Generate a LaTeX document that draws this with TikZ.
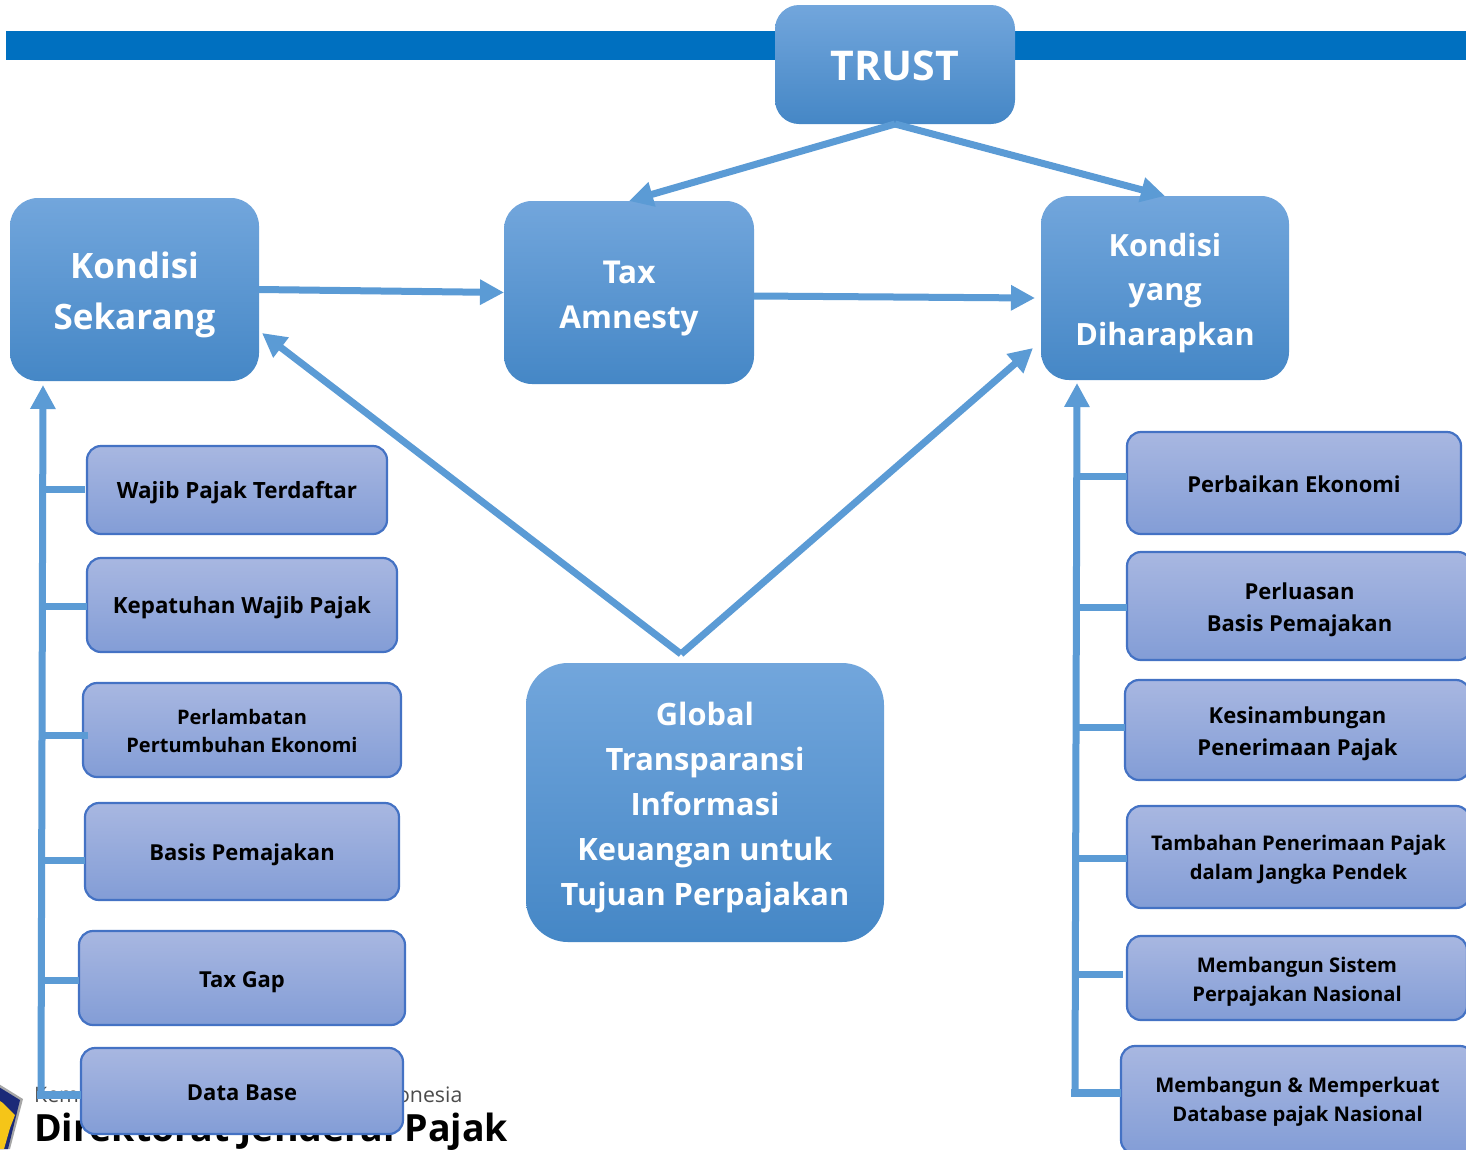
\documentclass[tikz,border=0pt]{standalone}
\usepackage{fontspec}
\setmainfont{Open Sans}
\usetikzlibrary{arrows.meta}
\definecolor{barblue}{HTML}{0070C0}
\definecolor{linkblue}{HTML}{5B9BD5}
\definecolor{edgeblue}{HTML}{4472C4}
\definecolor{HeadTop}{HTML}{72A6DC}
\definecolor{HeadMid}{HTML}{5598DB}
\definecolor{HeadBot}{HTML}{4587C6}
\definecolor{SubTop}{HTML}{A8B7E1}
\definecolor{SubBot}{HTML}{839DD6}
\definecolor{logonavy}{HTML}{1B2A78}
\definecolor{logogold}{HTML}{F5C518}
\newcommand{\fs}[2]{\fontsize{#1}{#2}\selectfont}
\newcommand{\dn}[2]{\raisebox{-#1pt}[\height][\depth]{\begin{tabular}{@{}c@{}}#2\end{tabular}}}
\tikzset{
 bighead/.style={text=white,align=center,inner sep=0pt,outer sep=0pt,
   top color=HeadTop,middle color=HeadMid,bottom color=HeadBot,draw=none,
   rounded corners=28pt,anchor=north west},
 subbox/.style={text=black,align=center,inner sep=0pt,outer sep=0pt,
   top color=SubTop,bottom color=SubBot,draw=edgeblue,line width=2.2pt,
   rounded corners=14pt,anchor=north west},
 link/.style={draw=linkblue,line width=7pt},
 tiplink/.style={link,-{Triangle[length=24pt,width=24pt]}},
 capfoot/.style={inner sep=0pt,anchor=base west}
}
\begin{document}
\begin{tikzpicture}[x=1pt,y=-1pt]
\path[use as bounding box,clip] (0,0) rectangle (1466,1149);
\fill[white] (0,0) rectangle (1466,1149);
\fill[barblue] (6,31) rectangle (1466,60);
% footer
\node[capfoot,text=black!70,font=\fs{21.3}{24}] (kem) at (34,1102) {Kementerian Keuangan Republik Indonesia};
\node[capfoot,font=\bfseries\fs{37.5}{40}] (dir) at (34,1141) {Direktorat Jenderal Pajak};
\fill[black!35] (-6,1081) -- (23,1099) -- (10,1149) -- (-6,1149) -- cycle;
\fill[logonavy] (-6,1084) -- (20,1100) -- (8,1149) -- (-6,1149) -- cycle;
\fill[logogold] (-6,1097) -- (3,1103) -- (15,1115) -- (10,1128) -- (4,1149) -- (-6,1149) -- cycle;
% coordinates
\coordinate (apex) at (681,654);
\coordinate (lefttop) at (43,385);
\coordinate (leftcorner) at (41,1095);
\coordinate (leftjoin) at (81,1095);
\coordinate (righttop) at (1077,383);
\coordinate (rightcorner) at (1075,1093);
\coordinate (rightjoin) at (1121,1093);
\coordinate (kstip) at (262,333);
\coordinate (kytip) at (1033,348);
\coordinate (taxend) at (1035,298);
\coordinate (taxstart) at (754,296);
\coordinate (a1) at (43,489);\coordinate (a2) at (43,606);\coordinate (a3) at (43,735);\coordinate (a4) at (43,860);\coordinate (a5) at (43,980);
\coordinate (b1) at (1077,476);\coordinate (b2) at (1077,607);\coordinate (b3) at (1077,727);\coordinate (b4) at (1077,858);\coordinate (b5) at (1077,974);
% main boxes
\node[bighead,minimum width=240pt,minimum height=119pt,rounded corners=24pt,font=\bfseries\fs{41}{48}] (trust) at (775,5) {\dn{6}{TRUST}};
\node[bighead,minimum width=249pt,minimum height=183pt,font=\bfseries\fs{35}{51}] (ks) at (10,198) {\dn{4}{Kondisi\\Sekarang}};
\node[bighead,minimum width=250pt,minimum height=183pt,font=\bfseries\fs{31.5}{45}] (tax) at (504,201) {\dn{4}{Tax\\Amnesty}};
\node[bighead,minimum width=248pt,minimum height=184pt,font=\bfseries\fs{30.6}{44.5}] (ky) at (1041,196) {\dn{4}{Kondisi\\yang\\Diharapkan}};
\node[bighead,minimum width=358pt,minimum height=279pt,rounded corners=42pt,font=\bfseries\fs{30.8}{44.8}] (gl) at (526,663) {\dn{4}{Global\\Transparansi\\Informasi\\Keuangan untuk\\Tujuan Perpajakan}};
% left boxes
\node[subbox,minimum width=300pt,minimum height=88pt,font=\bfseries\fs{22.4}{29}] (l1) at (87,446) {\dn{3}{Wajib Pajak Terdaftar}};
\node[subbox,minimum width=310pt,minimum height=94pt,font=\bfseries\fs{22.3}{29}] (l2) at (87,558) {\dn{3}{Kepatuhan Wajib Pajak}};
\node[subbox,minimum width=318pt,minimum height=94pt,font=\bfseries\fs{20}{28}] (l3) at (83,683) {\dn{3}{Perlambatan\\Pertumbuhan Ekonomi}};
\node[subbox,minimum width=314pt,minimum height=97pt,font=\bfseries\fs{22}{29}] (l4) at (85,803) {\dn{3}{Basis Pemajakan}};
\node[subbox,minimum width=326pt,minimum height=94pt,font=\bfseries\fs{22}{29}] (l5) at (79,931) {\dn{4}{Tax Gap}};
\node[subbox,minimum width=322pt,minimum height=86pt,font=\bfseries\fs{22}{29}] (l6) at (81,1048) {\dn{4}{Data Base}};
% right boxes
\node[subbox,minimum width=334pt,minimum height=102pt,font=\bfseries\fs{22}{29}] (r1) at (1127,432) {\dn{4}{Perbaikan Ekonomi}};
\node[subbox,minimum width=345pt,minimum height=108pt,font=\bfseries\fs{22}{32}] (r2) at (1127,552) {\dn{3}{Perluasan\\Basis Pemajakan}};
\node[subbox,minimum width=345pt,minimum height=100pt,font=\bfseries\fs{22}{32}] (r3) at (1125,680) {\dn{3}{Kesinambungan\\Penerimaan Pajak}};
\node[subbox,minimum width=343pt,minimum height=102pt,font=\bfseries\fs{20.2}{29}] (r4) at (1127,806) {\dn{2}{Tambahan Penerimaan Pajak\\dalam Jangka Pendek}};
\node[subbox,minimum width=340pt,minimum height=84pt,font=\bfseries\fs{20.2}{29}] (r5) at (1127,936) {\dn{3}{Membangun Sistem\\Perpajakan Nasional}};
\node[subbox,minimum width=353pt,minimum height=108pt,font=\bfseries\fs{20.2}{29}] (r6) at (1121,1046) {\dn{1}{Membangun \& Memperkuat\\Database pajak Nasional}};
% connectors
\draw[tiplink] (trust.south) -- (tax.north);
\draw[tiplink] (trust.south) -- (ky.north);
\draw[tiplink] (ks.east) -- (tax.west);
\draw[tiplink] (taxstart) -- (taxend);
\draw[tiplink] (apex) -- (kstip);
\draw[tiplink] (apex) -- (kytip);
\draw[tiplink] (leftcorner) -- (lefttop);
\draw[tiplink] (rightcorner) -- (righttop);
\draw[link,shorten >=2pt] (a1) -- (a1 -| l1.west);
\draw[link] (a2) -- (a2 -| l2.west);
\draw[link,shorten >=-5pt] (a3) -- (a3 -| l3.west);
\draw[link] (a4) -- (a4 -| l4.west);
\draw[link] (a5) -- (a5 -| l5.west);
\draw[link] (b1) -- (b1 -| r1.west);
\draw[link] (b2) -- (b2 -| r2.west);
\draw[link] (b3) -- (b3 -| r3.west);
\draw[link] (b4) -- (b4 -| r4.west);
\draw[link,shorten >=4pt] (b5) -- (b5 -| r5.west);
\draw[link,line width=8pt,shorten <=-4pt] (leftcorner) -- (leftjoin);
\draw[link,line width=8pt,shorten <=-4pt] (rightcorner) -- (rightjoin);
\end{tikzpicture}
\end{document}
